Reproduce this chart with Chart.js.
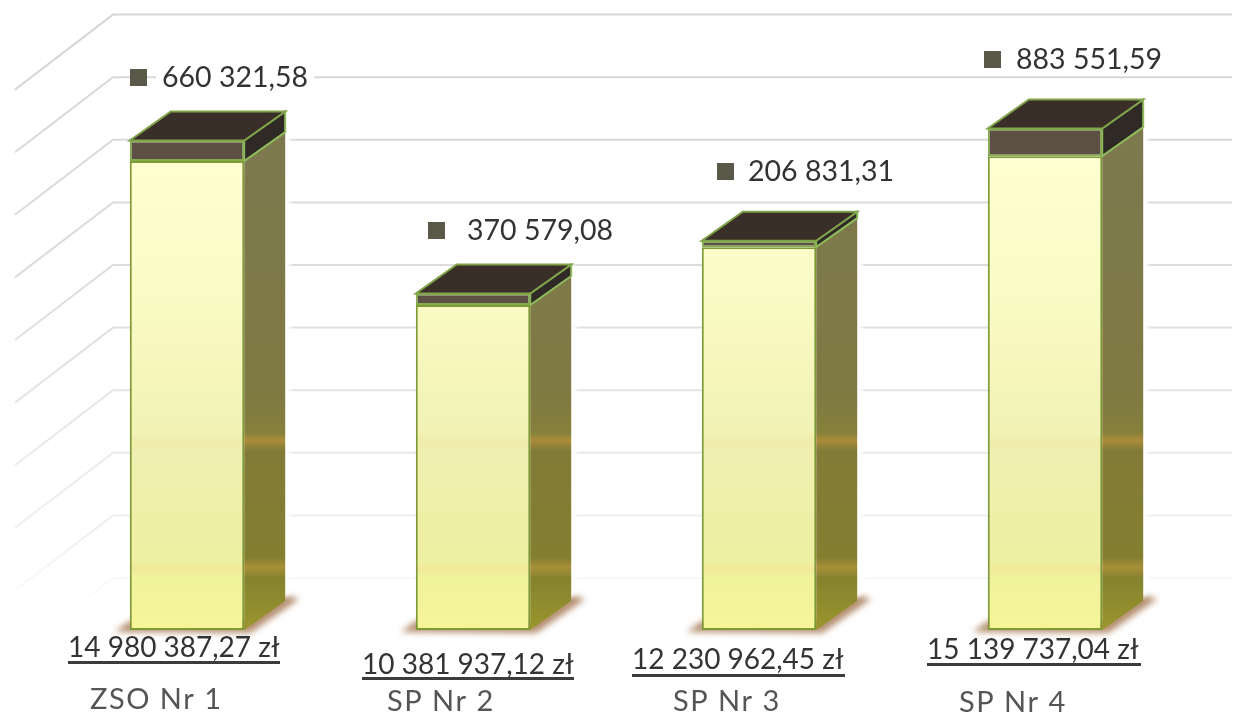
<!DOCTYPE html>
<html>
<head>
<meta charset="utf-8">
<title>Wykres</title>
<script src="https://cdn.jsdelivr.net/npm/chart.js@4/dist/chart.umd.min.js"></script>
<style>
  html, body { margin: 0; padding: 0; background: #fff; }
  #wrap { width: 1244px; height: 714px; }
</style>
</head>
<body>
<div id="wrap"><canvas id="chart" width="1244" height="714"></canvas></div>
<script>
// values
var categories = ['ZSO Nr 1', 'SP Nr 2', 'SP Nr 3', 'SP Nr 4'];
var mainValues = [14980387.27, 10381937.12, 12230962.45, 15139737.04];
var topValues = [660321.58, 370579.08, 206831.31, 883551.59];

// hand placed labels in the original, so kept apart from the data
var topLabelPlace = [[130, 77, 162], [428, 230, 467], [717, 171, 748], [984, 59, 1016]];
var mainLabelPlace = [[68, 648, 661, 280], [362, 665, 677, 574], [632, 660, 674, 845], [927, 650, 663, 1141]];
var catLabelPlace = [[90, 700], [387, 702], [673, 702], [959, 703]];

var DEPTH_X = 41, DEPTH_Y = 29;
var WALL_X0 = 15, WALL_X1 = 113, WALL_X2 = 1232, WALL_DY = 75, FRONT_SHIFT = 23;

function money(v) {
  var parts = v.toFixed(2).split('.');
  return parts[0].replace(/\B(?=(\d{3})+$)/g, ' ') + ',' + parts[1];
}

function frontFill(context) {
  var c = context.chart.ctx;
  var g = c.createLinearGradient(0, 140, 0, 630);
  g.addColorStop(0, '#ffffd2');
  g.addColorStop(0.3, '#fbfbc6');
  g.addColorStop(0.6, '#f1f2b4');
  g.addColorStop(0.615, '#f0ecaa');
  g.addColorStop(0.635, '#eff0b0');
  g.addColorStop(0.86, '#eef0a2');
  g.addColorStop(0.875, '#f1ea98');
  g.addColorStop(0.89, '#f0f29c');
  g.addColorStop(1, '#f6f698');
  return g;
}

function sideFill(c) {
  var g = c.createLinearGradient(0, 110, 0, 630);
  g.addColorStop(0, '#7d7850');
  g.addColorStop(0.55, '#7f7a42');
  g.addColorStop(0.62, '#85803a');
  g.addColorStop(0.635, '#ab8c3a');
  g.addColorStop(0.655, '#827b38');
  g.addColorStop(0.86, '#837f30');
  g.addColorStop(0.88, '#a98f38');
  g.addColorStop(0.9, '#84822e');
  g.addColorStop(1, '#9b962e');
  return g;
}

function poly(c, pts, fill, stroke, lw) {
  c.beginPath();
  c.moveTo(pts[0][0], pts[0][1]);
  for (var i = 1; i < pts.length; i++) c.lineTo(pts[i][0], pts[i][1]);
  c.closePath();
  if (fill) { c.fillStyle = fill; c.fill(); }
  if (stroke) { c.strokeStyle = stroke; c.lineWidth = lw || 2; c.stroke(); }
}

// back wall grid, taken from the value scale's ticks
var wallPlugin = {
  id: 'wall',
  beforeDatasetsDraw: function(chart) {
    var c = chart.ctx, y = chart.scales.y;
    var g = c.createLinearGradient(0, 15, 0, 640);
    g.addColorStop(0, '#d6d6d6');
    g.addColorStop(0.4, '#dcdcdc');
    g.addColorStop(0.7, '#e9e9e9');
    g.addColorStop(0.85, '#f1f1f1');
    g.addColorStop(0.96, '#ffffff');
    c.save();
    c.strokeStyle = g;
    c.lineWidth = 2;
    y.ticks.forEach(function(t) {
      if (t.value > 18000000) return;
      var py = y.getPixelForValue(t.value) + FRONT_SHIFT - WALL_DY;
      c.beginPath();
      c.moveTo(WALL_X0, py + WALL_DY);
      c.lineTo(WALL_X1, py);
      c.lineTo(WALL_X2, py);
      c.stroke();
    });
    c.restore();
  }
};

// shadows, side faces and lids behind the library's front rectangles
var boxPlugin = {
  id: 'box',
  beforeDatasetsDraw: function(chart) {
    var c = chart.ctx;
    var m0 = chart.getDatasetMeta(0).data, m1 = chart.getDatasetMeta(1).data;
    m0.forEach(function(bar, i) {
      var left = bar.x - bar.width / 2, right = bar.x + bar.width / 2;
      var base = bar.base, yMain = bar.y, yTop = m1[i].y;

      // floor shadow
      c.save();
      c.filter = 'blur(3px)';
      poly(c, [[left - 15, base + 2], [left, base - 9], [right, base - 9], [right + DEPTH_X, base - DEPTH_Y - 6],
               [right + DEPTH_X + 14, base - DEPTH_Y - 2], [right + 6, base + 3]], '#b48f70');
      c.restore();

      // mask the wall lines around the box
      c.save();
      c.filter = 'blur(2px)';
      poly(c, [[right, yTop], [right + DEPTH_X + 5, yTop - DEPTH_Y], [right + DEPTH_X + 5, base - DEPTH_Y - 8], [right, base - 8]], '#ffffff');
      c.restore();

      poly(c, [[right, yMain], [right + DEPTH_X, yMain - DEPTH_Y], [right + DEPTH_X, base - DEPTH_Y], [right, base]], sideFill(c));
      poly(c, [[right, yTop], [right + DEPTH_X, yTop - DEPTH_Y], [right + DEPTH_X, yMain - DEPTH_Y], [right, yMain]], '#2f2a25', '#8fbb5c', 2);
      poly(c, [[left, yTop], [right, yTop], [right + DEPTH_X, yTop - DEPTH_Y], [left + DEPTH_X, yTop - DEPTH_Y]], '#3a2f28', '#7fa34a', 2);
    });
  }
};

var labelPlugin = {
  id: 'labels',
  afterDatasetsDraw: function(chart) {
    var c = chart.ctx;
    c.save();
    c.textBaseline = 'middle';
    c.textAlign = 'left';

    topValues.forEach(function(v, i) {
      var p = topLabelPlace[i], txt = money(v);
      c.font = '28.5px Lato, "Open Sans", sans-serif';
      var w = c.measureText(txt).width;
      c.fillStyle = '#ffffff';
      c.fillRect(p[2] - 6, p[1] - 15, w + 12, 30);
      c.fillStyle = '#5a5848';
      c.fillRect(p[0], p[1] - 8, 17, 17);
      c.fillStyle = '#333333';
      c.fillText(txt, p[2], p[1] + 1);
    });

    mainValues.forEach(function(v, i) {
      var p = mainLabelPlace[i];
      c.font = '28px Lato, "Open Sans", sans-serif';
      c.fillStyle = '#333333';
      c.fillText(money(v) + ' zł', p[0], p[1]);
      c.fillStyle = '#3c3c3c';
      c.fillRect(p[0], p[2], p[3] - p[0], 3);
    });

    categories.forEach(function(name, i) {
      var p = catLabelPlace[i];
      c.font = '29px Lato, "Open Sans", sans-serif';
      c.letterSpacing = '1.5px';
      c.fillStyle = '#555555';
      c.fillText(name, p[0], p[1]);
      c.letterSpacing = '0px';
    });
    c.restore();
  }
};

new Chart(document.getElementById('chart'), {
  type: 'bar',
  data: {
    labels: categories,
    datasets: [
      {
        data: mainValues,
        backgroundColor: frontFill,
        borderColor: '#7f9a32',
        borderWidth: 2,
        borderSkipped: false,
        barPercentage: 0.4,
        categoryPercentage: 1
      },
      {
        data: topValues,
        backgroundColor: '#5c5044',
        borderColor: '#84ab4e',
        borderWidth: 2,
        borderSkipped: false,
        barPercentage: 0.4,
        categoryPercentage: 1
      }
    ]
  },
  options: {
    responsive: false,
    animation: false,
    layout: { padding: { left: 44, right: 56, top: 4, bottom: 84 } },
    plugins: { legend: { display: false }, tooltip: { enabled: false } },
    scales: {
      x: { stacked: true, display: false },
      y: {
        stacked: true,
        display: false,
        min: 0,
        max: 20000000,
        ticks: { stepSize: 2000000 }
      }
    }
  },
  plugins: [wallPlugin, boxPlugin, labelPlugin]
});
</script>
</body>
</html>
